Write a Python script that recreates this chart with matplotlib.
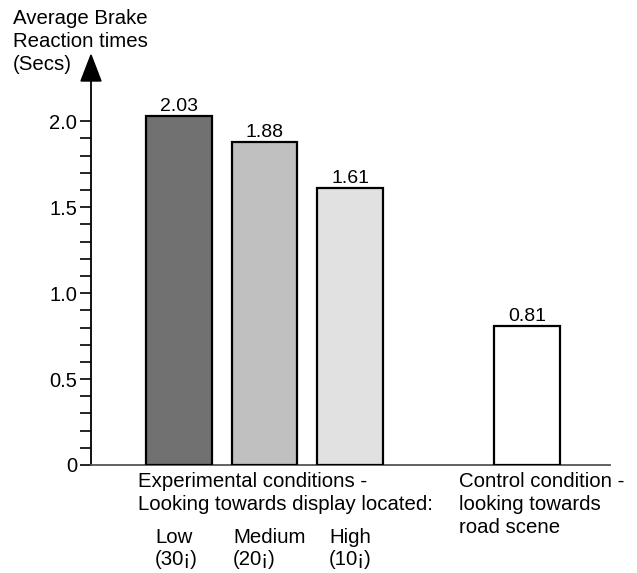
import matplotlib
matplotlib.use("Agg")
import matplotlib.pyplot as plt
from matplotlib.ticker import FixedLocator
from matplotlib.patches import Polygon

plt.rcParams['font.family'] = ['Liberation Sans', 'DejaVu Sans']

positions = [0, 1, 2, 4.07]
values = [2.03, 1.88, 1.61, 0.81]
value_labels = ["2.03", "1.88", "1.61", "0.81"]
colors = ["#717171", "#c0c0c0", "#e1e1e1", "#ffffff"]
ytick_vals = [0, 0.5, 1.0, 1.5, 2.0]
ytick_labels = ["0", "0.5", "1.0", "1.5", "2.0"]
minor_ticks = [round(0.1 * i, 1) for i in range(21)]

W, H = 637, 573
fig = plt.figure(figsize=(W / 100, H / 100), dpi=100)
ax = fig.add_axes([91 / W, 1 - 465 / H, (610 - 91) / W, (465 - 80) / H])

ax.bar(positions, values, width=0.77, color=colors, edgecolor="black", linewidth=1.6, zorder=3)
for p, v, lab in zip(positions, values, value_labels):
    ax.text(p, v + 0.005, lab, ha="center", va="bottom", fontsize=14)

ax.set_xlim(-1.03, 5.04)
ax.set_ylim(0, 2.24)
for s in ["top", "right"]:
    ax.spines[s].set_visible(False)
ax.spines["left"].set_linewidth(1.3)
ax.spines["bottom"].set_linewidth(1.3)
ax.spines["bottom"].set_color("#555555")
ax.set_xticks([])
ax.set_yticks(ytick_vals)
ax.set_yticklabels(ytick_labels, fontsize=14.5)
ax.yaxis.set_minor_locator(FixedLocator(minor_ticks))
ax.tick_params(axis="y", which="both", length=8, width=1.2, pad=2)

# arrow head at top of y axis (figure pixel geometry)
ax_x = 91
tri = Polygon([[(ax_x - 10) / W, 1 - 81 / H], [(ax_x + 10) / W, 1 - 81 / H], [ax_x / W, 1 - 55 / H]],
              closed=True, transform=fig.transFigure, facecolor="black", edgecolor="black")
fig.patches.append(tri)

fs = 14.7
ls = 1.28
fig.text(13 / W, 1 - 9 / H, "Average Brake\nReaction times\n(Secs)", ha="left", va="top",
         fontsize=fs, linespacing=ls)
fig.text(138 / W, 1 - 472 / H, "Experimental conditions -\nLooking towards display located:",
         ha="left", va="top", fontsize=fs, linespacing=ls)
fig.text(155 / W, 1 - 528 / H, "Low\n(30¡)", ha="left", va="top", fontsize=fs, linespacing=1.2)
fig.text(233 / W, 1 - 528 / H, "Medium\n(20¡)", ha="left", va="top", fontsize=fs, linespacing=1.2)
fig.text(329 / W, 1 - 528 / H, "High\n(10¡)", ha="left", va="top", fontsize=fs, linespacing=1.2)
fig.text(459 / W, 1 - 472 / H, "Control condition -\nlooking towards\nroad scene",
         ha="left", va="top", fontsize=fs, linespacing=ls)

fig.savefig("out.png", dpi=100)
